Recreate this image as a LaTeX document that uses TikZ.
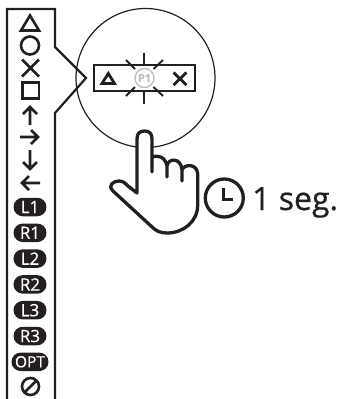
\documentclass[tikz,border=0pt]{standalone}
\usepackage{fontspec}
\setmainfont{Open Sans}
\newfontfamily\labelfont[FakeBold=0.6]{Open Sans}
\usetikzlibrary{positioning,shapes,arrows}
\definecolor{ink}{HTML}{231F20}
\tikzset{
  symb/.style={draw=ink,line width=2.6pt},
  pill/.style={rounded rectangle,fill=ink,text=white,minimum width=33pt,minimum height=18.5pt,inner sep=0pt,font=\labelfont\fontsize{17}{17}\selectfont},
  blink/.style={draw=ink,line width=1.9pt},
}
\begin{document}
\begin{tikzpicture}[x=1pt,y=-1pt,line join=miter]
\useasboundingbox (0,0) rectangle (340,399);
% panel
\draw[ink,line width=2.2pt] (7,399) -- (7,9) -- (55,9) -- (55,47) -- (86,78) -- (55,113) -- (55,399);
% symbols
\draw[symb] (30,15.5) -- (39,30.5) -- (21,30.5) -- cycle;
\draw[symb] (30,45.5) circle (9pt);
\draw[symb] (22,59.5) -- (39,76.5) (39,59.5) -- (22,76.5);
\draw[symb] (22.5,82.5) rectangle (39,98.5);
\draw[symb] (30,125) -- (30,107) (23,114) -- (30,107) -- (37,114);
\draw[symb] (20,137) -- (38,137) (31,130) -- (38,137) -- (31,144);
\draw[symb] (30,150) -- (30,169) (23,162) -- (30,169) -- (37,162);
\draw[symb] (40,183) -- (22,183) (29,176) -- (22,183) -- (29,190);
%
\node[pill] at (30,207) (L1) {L1};
\node[pill,below of=L1,node distance=25.8pt] (R1) {R1};
\node[pill,below of=R1,node distance=25.8pt] (L2) {L2};
\node[pill,below of=L2,node distance=25.8pt] (R2) {R2};
\node[pill,below of=R2,node distance=25.8pt] (L3) {L3};
\node[pill,below of=L3,node distance=25.8pt] (R3) {R3};
\node[pill,below of=R3,node distance=25.8pt,minimum width=37pt,font=\labelfont\fontsize{15.5}{15.5}\selectfont] (OPT) {OPT};
\draw[symb] (30.5,386.5) circle (8.5pt) (25,392) -- (36,381);
% zoom circle
\draw[ink,line width=1.2pt] (145.5,78) circle (69.5pt);
\draw[ink,line width=1.4pt] (94,65) rectangle (195,91);
\draw[ink,line width=2.8pt] (108.3,73.5) -- (114.5,83.5) -- (102,83.5) -- cycle;
\draw[ink,line width=2.8pt] (173.5,72.5) -- (186.5,85) (186.5,72.5) -- (173.5,85);
\node[circle,draw=black!25,line width=1.4pt,text=black!25,minimum size=19pt,inner sep=0pt,font=\labelfont\fontsize{11}{11}\selectfont\bfseries] at (144.5,78) (P1) {P1};
\draw[blink] (144,52.5) -- (144,65) (144,92) -- (144,104);
\draw[blink] (126,60) -- (135,69) (163,60) -- (153.5,69);
\draw[blink] (126,96) -- (135,87) (163,96) -- (153.5,87);
% hand
\draw[ink,fill=white,line width=3.3pt,line cap=round,line join=round]
  (137,193) -- (137,139) .. controls (137,133) and (140,131) .. (144.5,131)
  .. controls (149,131) and (152,133) .. (152,139) -- (152,157)
  .. controls (157,155) and (165,156) .. (167,166)
  .. controls (168,158) and (181,157) .. (182,170)
  .. controls (184,164) and (197,163) .. (197.7,174) -- (197.7,205)
  .. controls (197.7,222) and (183,233) .. (167,233)
  .. controls (160,233) and (156,231) .. (151,226) -- (113,191)
  .. controls (107,185) and (114,181) .. (119,181)
  .. controls (123,181) and (125,183) .. (128,186) -- cycle
  (152,139) -- (152,172) (167,166) -- (167,177) (182,170) -- (182,181);
% clock
\draw[ink,line width=3.3pt] (224.3,198) circle (19pt);
\draw[ink,line width=3.2pt] (223.3,188) -- (223.3,199.5) -- (233,199.5);
\node[ink,anchor=base west,inner sep=0pt,font=\labelfont\fontsize{32}{32}\selectfont] at (252,210) (seg) {1 seg.};
\end{tikzpicture}
\end{document}
